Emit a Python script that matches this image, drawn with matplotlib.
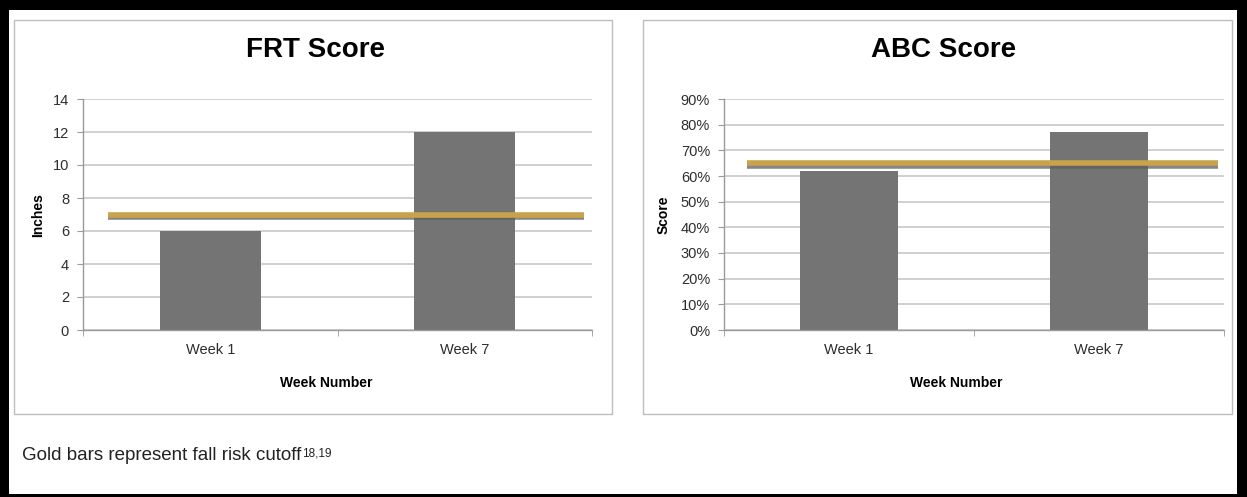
import matplotlib
matplotlib.use("Agg")
import matplotlib.pyplot as plt
from matplotlib.patches import Rectangle
from matplotlib.ticker import FuncFormatter
import matplotlib.patheffects as pe

plt.rcParams["font.family"] = ["Liberation Sans Narrow", "Liberation Sans", "DejaVu Sans"]

# =========================
# data
# =========================
weeks = ["Week 1", "Week 7"]
frt_values = [6, 12]
abc_values = [62, 77]
frt_cutoff = 7
abc_cutoff = 65
frt_ticks = [0, 2, 4, 6, 8, 10, 12, 14]
abc_ticks = [0, 10, 20, 30, 40, 50, 60, 70, 80, 90]

W, H = 1247, 497
BAR_COLOR = "#747474"
GOLD = "#c9a24c"
GRID = "#c4c4c4"
TEXT = "#2e2e2e"

fig = plt.figure(figsize=(W / 100, H / 100), dpi=100, facecolor="black")


def fx(px):
    return px / W


def fy(py):
    return 1 - py / H


# white page inside the black frame
fig.patches.append(Rectangle((fx(9), fy(494)), fx(1237 - 9), (494 - 10) / H,
                             transform=fig.transFigure, facecolor="white",
                             edgecolor="none", zorder=0))

# panel boxes
for x0, x1 in [(14, 612), (643, 1232)]:
    fig.patches.append(Rectangle((fx(x0), fy(414)), fx(x1 - x0), (414 - 20) / H,
                                 transform=fig.transFigure, facecolor="white",
                                 edgecolor="#bdbdbd", linewidth=1.0, zorder=1))


def draw_panel(left_px, right_px, values, cutoff, ticks, line_span, title,
               title_x, ylabel, ylabel_x, xlabel_x, percent):
    ax = fig.add_axes([fx(left_px), fy(330), fx(right_px - left_px), (330 - 99) / H])
    ax.set_zorder(2)
    ax.patch.set_alpha(0)

    x = range(len(values))
    ax.bar(x, values, width=0.395, color=BAR_COLOR, zorder=2)

    line = ax.plot(line_span, [cutoff, cutoff], color=GOLD, linewidth=4.0,
                   solid_capstyle="butt", zorder=3)[0]
    line.set_path_effects([
        pe.SimpleLineShadow(offset=(0, -1.8), shadow_color="#5e5e5e", alpha=0.75),
        pe.Normal(),
    ])

    ax.set_xlim(-0.5, len(values) - 0.5)
    ax.set_ylim(ticks[0], ticks[-1])
    ax.set_yticks(ticks)
    if percent:
        ax.yaxis.set_major_formatter(FuncFormatter(lambda v, p: f"{int(v)}%"))
    ax.grid(axis="y", color=GRID, linewidth=1.1, zorder=0)
    ax.set_axisbelow(True)

    ax.set_xticks(list(x))
    ax.set_xticklabels(weeks, fontsize=10.5, color=TEXT)
    ax.set_xticks([-0.5, 0.5, len(values) - 0.5], minor=True)
    ax.tick_params(axis="x", which="major", length=0, pad=9)
    ax.tick_params(axis="x", which="minor", length=4, color="#9a9a9a", direction="out")
    ax.tick_params(axis="y", length=4, color="#9a9a9a", direction="out",
                   labelsize=10.5, labelcolor=TEXT, pad=6)

    for side in ["top", "right"]:
        ax.spines[side].set_visible(False)
    for side in ["left", "bottom"]:
        ax.spines[side].set_color("#9a9a9a")
        ax.spines[side].set_linewidth(1.0)

    fig.text(fx(title_x), fy(50), title, ha="center", va="center",
             fontsize=20, fontweight="bold", color="black", zorder=3)
    fig.text(fx(ylabel_x), fy(215), ylabel, ha="center", va="center",
             rotation=90, fontsize=10, fontweight="bold", color="black", zorder=3)
    fig.text(fx(xlabel_x), fy(383), "Week Number", ha="center", va="center",
             fontsize=10, fontweight="bold", color="black", zorder=3)
    return ax


draw_panel(83, 592, frt_values, frt_cutoff, frt_ticks, [-0.4, 1.47],
           "FRT Score", 315, "Inches", 38, 326, False)
draw_panel(724, 1224, abc_values, abc_cutoff, abc_ticks, [-0.41, 1.476],
           "ABC Score", 944, "Score", 664, 956, True)

# footnote with superscript references
note = fig.text(fx(22), fy(455), "Gold bars represent fall risk cutoff",
                ha="left", va="center", fontsize=13.5, color="#222222", zorder=3)
fig.text(0, 0, "")
plt.annotate("18,19", xy=(1, 1), xycoords=note, xytext=(0.5, -0.5),
             textcoords="offset points", ha="left", va="top",
             fontsize=8.5, color="#222222", annotation_clip=False)

fig.savefig("out.png", dpi=100, facecolor=fig.get_facecolor())
